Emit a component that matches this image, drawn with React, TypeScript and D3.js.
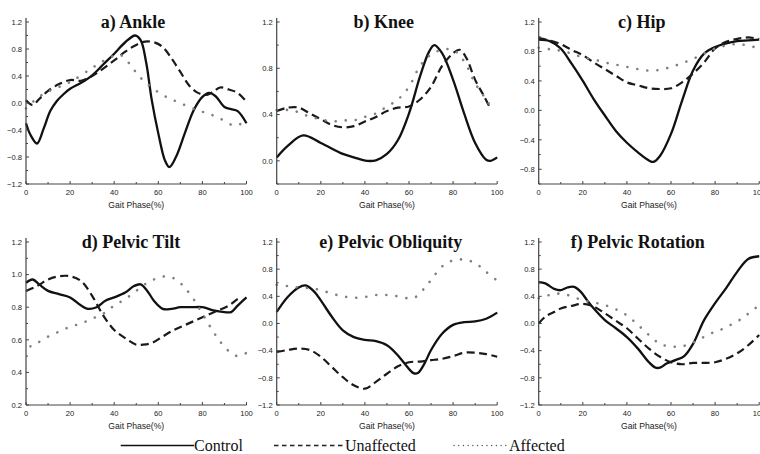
import React from "react";
import * as d3 from "d3";

type Pt = [number, number];

// ---------- tick labels ----------
const xMajorTicks = [0, 20, 40, 60, 80, 100];
const xMinorTicks = [10, 30, 50, 70, 90];
const yTicksFull = [-1.2, -0.8, -0.4, 0.0, 0.4, 0.8, 1.2];
const yMinorFull = [-1.0, -0.6, -0.2, 0.2, 0.6, 1.0];
const yTicksKnee = [0.0, 0.4, 0.8, 1.2];
const yMinorKnee = [-0.2, 0.2, 0.6, 1.0];
const yTicksHip = [-0.8, -0.4, 0.0, 0.4, 0.8, 1.2];
const yMinorHip = [-1.0, -0.6, -0.2, 0.2, 0.6, 1.0];
const yTicksTilt = [0.2, 0.4, 0.6, 0.8, 1.0, 1.2];
const yMinorTilt = [0.3, 0.5, 0.7, 0.9, 1.1];

const titles = ["a) Ankle", "b) Knee", "c) Hip", "d) Pelvic Tilt", "e) Pelvic Obliquity", "f) Pelvic Rotation"];
const seriesNames = ["Control", "Unaffected", "Affected"];
const xLabel = "Gait Phase(%)";

// ---------- data ----------
const ankleControl: Pt[] = [[0,-0.30],[2,-0.47],[5,-0.60],[8,-0.38],[11,-0.12],[14,0.03],[17,0.13],[20,0.21],[25,0.30],[30,0.41],[35,0.57],[40,0.73],[45,0.90],[49.5,1.0],[52,0.93],[54.5,0.60],[57,0.05],[60,-0.45],[63,-0.85],[65,-0.95],[68,-0.80],[72,-0.45],[76,-0.11],[80,0.09],[83,0.15],[86,0.10],[90,-0.06],[93,-0.09],[96,-0.12],[100,-0.30]];
const ankleUnaffected: Pt[] = [[0,0.04],[3,-0.03],[6,0.06],[10,0.18],[15,0.28],[20,0.34],[25,0.33],[30,0.40],[35,0.51],[40,0.63],[45,0.76],[50,0.86],[54,0.91],[58,0.90],[62,0.83],[66,0.66],[70,0.46],[74,0.26],[78,0.15],[82,0.12],[85,0.17],[88,0.23],[92,0.20],[96,0.15],[100,0.02]];
const ankleAffected: Pt[] = [[0,-0.08],[5,0.07],[10,0.17],[20,0.31],[30,0.52],[35,0.62],[40,0.70],[43,0.71],[47,0.58],[50,0.45],[53,0.34],[57,0.23],[62,0.12],[67,0.04],[72,-0.03],[78,-0.11],[83,-0.16],[88,-0.23],[93,-0.32],[96,-0.33],[100,-0.25]];

const kneeControl: Pt[] = [[0,0.03],[5,0.13],[12,0.22],[20,0.155],[30,0.06],[35,0.03],[41,0.0],[45,0.005],[50,0.06],[55,0.18],[60,0.41],[65,0.73],[69,0.94],[71.5,1.0],[75,0.93],[80,0.70],[85,0.41],[90,0.155],[95,0.01],[97,0.0],[100,0.03]];
const kneeUnaffected: Pt[] = [[0,0.43],[5,0.46],[10,0.46],[15,0.41],[20,0.36],[25,0.31],[30,0.29],[35,0.30],[40,0.34],[45,0.38],[50,0.43],[55,0.46],[60,0.47],[65,0.53],[70,0.64],[75,0.82],[80,0.93],[83,0.96],[86,0.89],[90,0.70],[94,0.56],[97,0.45]];
const kneeAffected: Pt[] = [[0,0.44],[5,0.44],[10,0.42],[15,0.38],[20,0.36],[25,0.34],[30,0.35],[35,0.35],[40,0.38],[45,0.41],[50,0.47],[55,0.53],[60,0.64],[65,0.82],[70,0.92],[75,0.96],[80,0.96],[85,0.86],[90,0.67],[95,0.53],[97,0.47]];

const hipControl: Pt[] = [[0,0.96],[5,0.94],[10,0.84],[15,0.63],[20,0.40],[25,0.15],[30,-0.07],[35,-0.28],[40,-0.44],[45,-0.57],[50,-0.68],[52,-0.70],[55,-0.62],[60,-0.32],[65,0.13],[70,0.54],[75,0.77],[80,0.86],[85,0.91],[90,0.94],[95,0.95],[100,0.96]];
const hipUnaffected: Pt[] = [[0,0.98],[5,0.95],[10,0.90],[15,0.82],[20,0.75],[25,0.65],[30,0.56],[35,0.47],[40,0.38],[45,0.34],[50,0.30],[55,0.29],[60,0.30],[65,0.38],[70,0.50],[75,0.65],[80,0.84],[85,0.93],[90,0.97],[95,0.99],[100,0.97]];
const hipAffected: Pt[] = [[0,0.85],[5,0.83],[10,0.81],[15,0.77],[20,0.72],[25,0.69],[30,0.65],[35,0.62],[40,0.59],[45,0.56],[50,0.54],[55,0.55],[60,0.59],[65,0.64],[70,0.70],[75,0.77],[80,0.84],[85,0.88],[90,0.90],[95,0.88],[100,0.84]];

const tiltControl: Pt[] = [[0,0.95],[3,0.97],[6,0.94],[10,0.90],[15,0.88],[20,0.86],[25,0.81],[28,0.79],[32,0.80],[36,0.84],[40,0.86],[45,0.89],[49,0.93],[52,0.94],[55,0.90],[58,0.84],[62,0.79],[66,0.79],[70,0.80],[75,0.80],[80,0.80],[85,0.78],[90,0.77],[93,0.77],[96,0.81],[100,0.86]];
const tiltUnaffected: Pt[] = [[0,0.90],[5,0.93],[10,0.97],[15,0.99],[20,0.99],[25,0.96],[30,0.87],[35,0.75],[40,0.66],[45,0.61],[50,0.57],[53,0.57],[57,0.58],[62,0.62],[67,0.66],[72,0.69],[77,0.72],[82,0.75],[87,0.78],[92,0.81],[96,0.85],[98,0.86]];
const tiltAffected: Pt[] = [[2,0.56],[5,0.58],[10,0.62],[15,0.65],[20,0.68],[25,0.70],[30,0.73],[35,0.76],[40,0.81],[45,0.85],[50,0.90],[55,0.95],[60,0.98],[64,0.99],[68,0.97],[72,0.92],[76,0.85],[80,0.76],[84,0.67],[88,0.59],[92,0.53],[96,0.50],[100,0.52]];

const obliqControl: Pt[] = [[0,0.17],[5,0.39],[10,0.53],[13,0.56],[17,0.47],[20,0.34],[25,0.10],[30,-0.10],[35,-0.20],[40,-0.24],[45,-0.26],[50,-0.32],[55,-0.47],[58,-0.59],[62,-0.73],[64,-0.73],[67,-0.59],[70,-0.39],[75,-0.15],[80,-0.02],[85,0.02],[90,0.03],[95,0.07],[100,0.16]];
const obliqUnaffected: Pt[] = [[0,-0.42],[5,-0.39],[10,-0.37],[15,-0.39],[20,-0.49],[25,-0.64],[30,-0.79],[35,-0.91],[40,-0.96],[45,-0.86],[50,-0.74],[55,-0.63],[60,-0.57],[65,-0.56],[70,-0.54],[75,-0.52],[80,-0.48],[85,-0.43],[90,-0.43],[95,-0.45],[100,-0.49]];
const obliqAffected: Pt[] = [[0,0.57],[5,0.55],[10,0.53],[15,0.52],[20,0.49],[25,0.44],[30,0.40],[35,0.38],[40,0.39],[45,0.42],[50,0.42],[55,0.40],[60,0.37],[63,0.39],[67,0.52],[70,0.64],[75,0.84],[80,0.93],[85,0.94],[90,0.89],[95,0.76],[100,0.63]];

const rotControl: Pt[] = [[0,0.61],[3,0.59],[7,0.51],[10,0.49],[13,0.53],[16,0.54],[19,0.47],[22,0.34],[25,0.22],[30,0.05],[35,-0.07],[40,-0.20],[45,-0.37],[50,-0.57],[53,-0.65],[55,-0.65],[58,-0.59],[62,-0.54],[66,-0.48],[70,-0.30],[75,0.05],[80,0.30],[85,0.52],[90,0.76],[95,0.95],[100,0.99]];
const rotUnaffected: Pt[] = [[0,0.0],[3,0.10],[7,0.17],[10,0.22],[15,0.26],[20,0.29],[25,0.25],[30,0.15],[35,0.04],[40,-0.07],[45,-0.22],[50,-0.37],[55,-0.49],[60,-0.57],[65,-0.60],[70,-0.58],[75,-0.58],[80,-0.57],[85,-0.52],[90,-0.44],[95,-0.32],[100,-0.17]];
const rotAffected: Pt[] = [[0,0.37],[5,0.42],[10,0.44],[15,0.40],[20,0.34],[25,0.31],[30,0.27],[35,0.21],[40,0.12],[45,-0.02],[50,-0.17],[55,-0.30],[60,-0.34],[63,-0.34],[67,-0.32],[72,-0.25],[77,-0.16],[82,-0.10],[87,-0.02],[92,0.07],[96,0.17],[100,0.27]];

// ---------- layout ----------
const colLeft = [26, 276.7, 538.7];
const plotW = 220.5;
const rowTop = [22, 242];
const rowBottom = [184, 405];

interface PanelDef {
  title: string;
  col: number;
  row: number;
  domain: [number, number];
  major: number[];
  minor: number[];
  series: Pt[][];
  titleX: number;
}

const panels: PanelDef[] = [
  { title: titles[0], col: 0, row: 0, domain: [-1.2, 1.2], major: yTicksFull, minor: yMinorFull, series: [ankleControl, ankleUnaffected, ankleAffected], titleX: 107 },
  { title: titles[1], col: 1, row: 0, domain: [-0.2, 1.2], major: yTicksKnee, minor: yMinorKnee, series: [kneeControl, kneeUnaffected, kneeAffected], titleX: 107 },
  { title: titles[2], col: 2, row: 0, domain: [-1.0, 1.2], major: yTicksHip, minor: yMinorHip, series: [hipControl, hipUnaffected, hipAffected], titleX: 103 },
  { title: titles[3], col: 0, row: 1, domain: [0.2, 1.2], major: yTicksTilt, minor: yMinorTilt, series: [tiltControl, tiltUnaffected, tiltAffected], titleX: 105 },
  { title: titles[4], col: 1, row: 1, domain: [-1.2, 1.2], major: yTicksFull, minor: yMinorFull, series: [obliqControl, obliqUnaffected, obliqAffected], titleX: 114 },
  { title: titles[5], col: 2, row: 1, domain: [-1.2, 1.2], major: yTicksFull, minor: yMinorFull, series: [rotControl, rotUnaffected, rotAffected], titleX: 99 },
];

const styles = [
  { stroke: "#111", width: 2.3, dash: undefined as string | undefined, cap: "butt" },
  { stroke: "#1a1a1a", width: 2.2, dash: "8 4.5", cap: "butt" },
  { stroke: "#808080", width: 2.6, dash: "0.1 10", cap: "round" },
];
const legendStyles = [
  { stroke: "#111", width: 1.3, dash: undefined as string | undefined, cap: "butt" },
  { stroke: "#222", width: 1.3, dash: "4.5 3.5", cap: "butt" },
  { stroke: "#555", width: 1.3, dash: "0.1 4.6", cap: "round" },
];

const sans = "'Liberation Sans', Arial, sans-serif";
const serif = "'Liberation Serif', 'Times New Roman', serif";
const axisColor = "#444";

function Panel({ p }: { p: PanelDef }) {
  const left = colLeft[p.col];
  const top = rowTop[p.row];
  const bottom = rowBottom[p.row];
  const x = d3.scaleLinear().domain([0, 100]).range([left, left + plotW]);
  const y = d3.scaleLinear().domain(p.domain).range([bottom, top]);
  const line = d3
    .line<Pt>()
    .x((d) => x(d[0]))
    .y((d) => y(d[1]))
    .curve(d3.curveCatmullRom.alpha(0.5));
  return (
    <g>
      {p.series.map((s, i) => (
        <path
          key={i}
          d={line(s) || ""}
          fill="none"
          stroke={styles[i].stroke}
          strokeWidth={styles[i].width}
          strokeDasharray={styles[i].dash}
          strokeLinecap={styles[i].cap as any}
          strokeLinejoin="round"
        />
      ))}
      {/* axes */}
      <line x1={left} x2={left} y1={top - 4} y2={bottom} stroke={axisColor} strokeWidth={1.2} />
      <line x1={left} x2={left + plotW} y1={bottom} y2={bottom} stroke={axisColor} strokeWidth={1.2} />
      {p.major.map((t) => (
        <g key={"ym" + t}>
          <line x1={left} x2={left + 3} y1={y(t)} y2={y(t)} stroke={axisColor} strokeWidth={1} />
          <text x={left - 4} y={y(t) + 2.8} fontSize={7.6} fontFamily={sans} textAnchor="end" fill="#222">
            {d3.format(".1f")(t)}
          </text>
        </g>
      ))}
      {p.minor.map((t) => (
        <line key={"yn" + t} x1={left} x2={left + 2} y1={y(t)} y2={y(t)} stroke={axisColor} strokeWidth={1} />
      ))}
      {xMajorTicks.map((t) => (
        <g key={"xm" + t}>
          <line x1={x(t)} x2={x(t)} y1={bottom} y2={bottom - 3} stroke={axisColor} strokeWidth={1} />
          <text x={x(t)} y={bottom + 11} fontSize={7.6} fontFamily={sans} textAnchor="middle" fill="#222">
            {t}
          </text>
        </g>
      ))}
      {xMinorTicks.map((t) => (
        <line key={"xn" + t} x1={x(t)} x2={x(t)} y1={bottom} y2={bottom - 2} stroke={axisColor} strokeWidth={1} />
      ))}
      <text x={left + plotW / 2} y={bottom + 23.5} fontSize={8.6} fontFamily={sans} textAnchor="middle" fill="#222">
        {xLabel}
      </text>
      <text x={left + p.titleX} y={top + 5.5} fontSize={18} fontWeight="bold" fontFamily={serif} textAnchor="middle" fill="#111">
        {p.title}
      </text>
    </g>
  );
}

const legendLineX = [[120.7, 194], [274, 345], [454, 509]];

export default function App() {
  return (
    <svg
      width={760}
      height={454}
      style={{ position: "absolute", left: 0, top: 0, background: "#fff" }}
    >
      <rect x={0} y={0} width={760} height={454} fill="#fff" />
      {panels.map((p, i) => (
        <Panel key={i} p={p} />
      ))}
      {seriesNames.map((name, i) => (
        <g key={name}>
          <line
            x1={legendLineX[i][0]}
            x2={legendLineX[i][1]}
            y1={445.5}
            y2={445.5}
            stroke={legendStyles[i].stroke}
            strokeWidth={legendStyles[i].width}
            strokeDasharray={legendStyles[i].dash}
            strokeLinecap={legendStyles[i].cap as any}
          />
          <text x={legendLineX[i][1]} y={451} fontSize={16} fontFamily={serif} fill="#111">
            {name}
          </text>
        </g>
      ))}
    </svg>
  );
}
